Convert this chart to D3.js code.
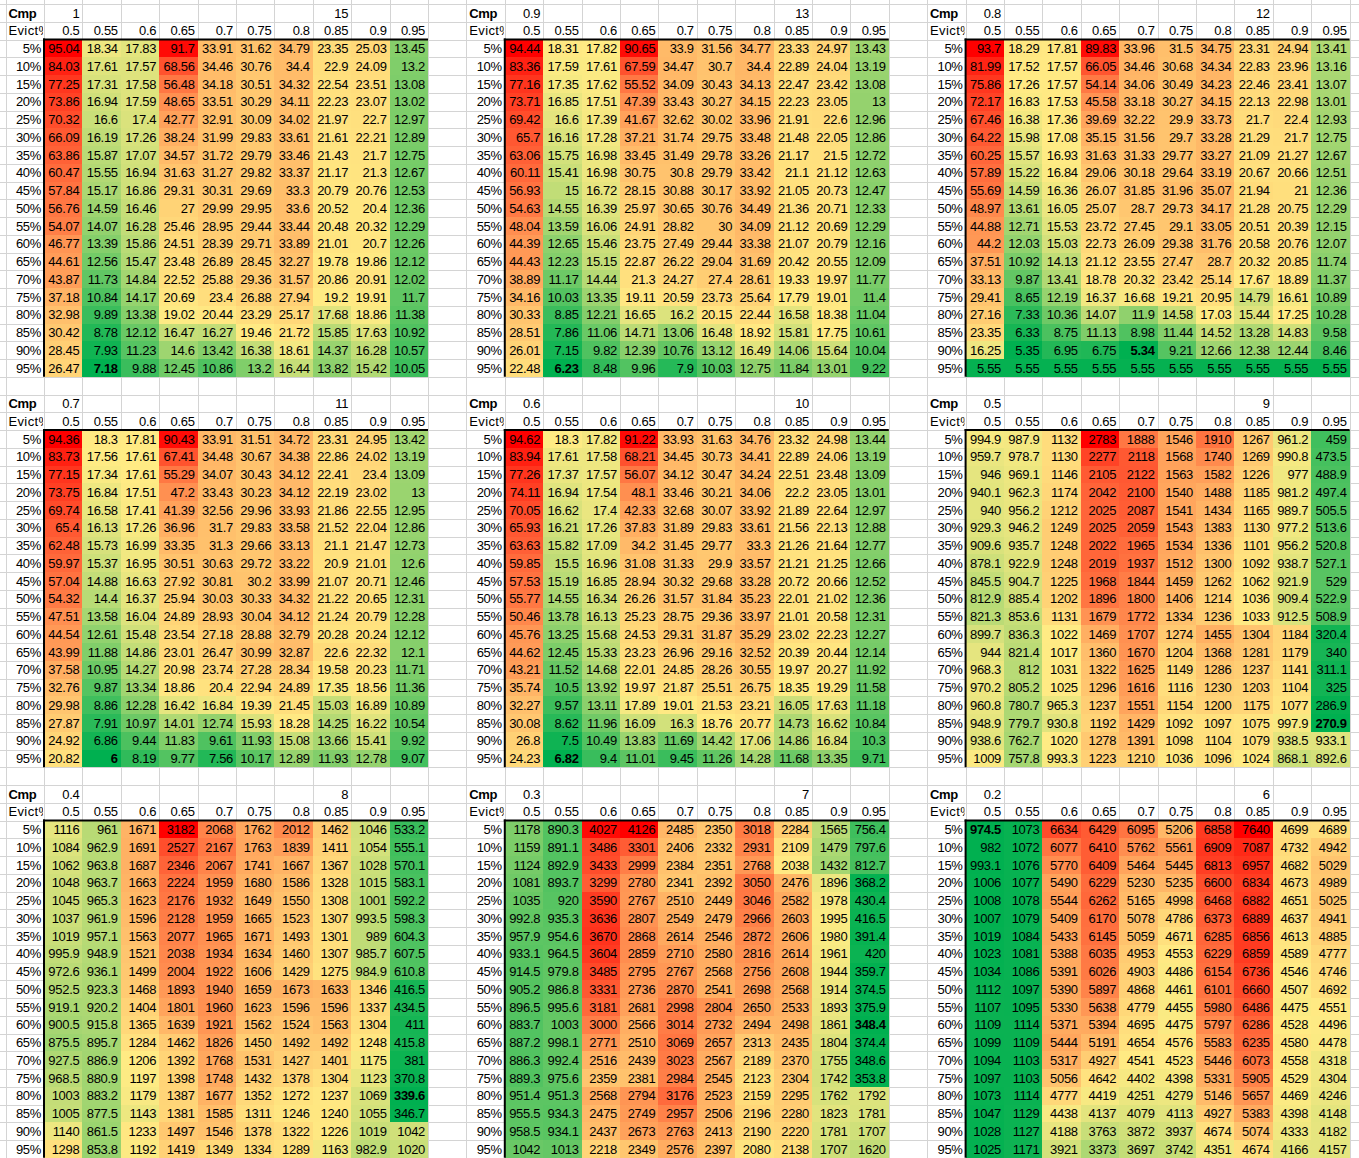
<!DOCTYPE html>
<html><head><meta charset="utf-8">
<script src="https://cdn.jsdelivr.net/npm/d3@7"></script>
<style>
html,body{margin:0;padding:0;background:#fff;}
svg{display:block;}
text{font-family:"Liberation Sans",Arial,sans-serif;font-size:13px;fill:#000;letter-spacing:-0.3px;}
</style></head><body>
<div id="chart"></div>
<script>
// ---------- DATA ----------
const evictCols = [0.5, 0.55, 0.6, 0.65, 0.7, 0.75, 0.8, 0.85, 0.9, 0.95];
const rowLabels = ["5%","10%","15%","20%","25%","30%","35%","40%","45%","50%","55%","60%","65%","70%","75%","80%","85%","90%","95%"];
const cmpFirst  = [1, 0.9, 0.8, 0.7, 0.6, 0.5, 0.4, 0.3, 0.2];
const cmpSecond = [15, 13, 12, 11, 10, 9, 8, 7, 6];

const vals_cmp1 = [
[95.04,18.34,17.83,91.7,33.91,31.62,34.79,23.35,25.03,13.45],
[84.03,17.61,17.57,68.56,34.46,30.76,34.4,22.9,24.09,13.2],
[77.25,17.31,17.58,56.48,34.18,30.51,34.32,22.54,23.51,13.08],
[73.86,16.94,17.59,48.65,33.51,30.29,34.11,22.23,23.07,13.02],
[70.32,16.6,17.4,42.77,32.91,30.09,34.02,21.97,22.7,12.97],
[66.09,16.19,17.26,38.24,31.99,29.83,33.61,21.61,22.21,12.89],
[63.86,15.87,17.07,34.57,31.72,29.79,33.46,21.43,21.7,12.75],
[60.47,15.55,16.94,31.63,31.27,29.82,33.37,21.17,21.3,12.67],
[57.84,15.17,16.86,29.31,30.31,29.69,33.3,20.79,20.76,12.53],
[56.76,14.59,16.46,27,29.99,29.95,33.6,20.52,20.4,12.36],
[54.07,14.07,16.28,25.46,28.95,29.44,33.44,20.48,20.32,12.29],
[46.77,13.39,15.86,24.51,28.39,29.71,33.89,21.01,20.7,12.26],
[44.61,12.56,15.47,23.48,26.89,28.45,32.27,19.78,19.86,12.12],
[43.87,11.73,14.84,22.52,25.88,29.36,31.57,20.86,20.91,12.02],
[37.18,10.84,14.17,20.69,23.4,26.88,27.94,19.2,19.91,11.7],
[32.98,9.89,13.38,19.02,20.44,23.29,25.17,17.68,18.86,11.38],
[30.42,8.78,12.12,16.47,16.27,19.46,21.72,15.85,17.63,10.92],
[28.45,7.93,11.23,14.6,13.42,16.38,18.61,14.37,16.28,10.57],
[26.47,7.18,9.88,12.45,10.86,13.2,16.44,13.82,15.42,10.05]];

const vals_cmp09 = [
[94.44,18.31,17.82,90.65,33.9,31.56,34.77,23.33,24.97,13.43],
[83.36,17.59,17.61,67.59,34.47,30.7,34.4,22.89,24.04,13.19],
[77.16,17.35,17.62,55.52,34.09,30.43,34.13,22.47,23.42,13.08],
[73.71,16.85,17.51,47.39,33.43,30.27,34.15,22.23,23.05,13],
[69.42,16.6,17.39,41.67,32.62,30.02,33.96,21.91,22.6,12.96],
[65.7,16.16,17.28,37.21,31.74,29.75,33.48,21.48,22.05,12.86],
[63.06,15.75,16.98,33.45,31.49,29.78,33.26,21.17,21.5,12.72],
[60.11,15.41,16.98,30.75,30.8,29.79,33.42,21.1,21.12,12.63],
[56.93,15,16.72,28.15,30.88,30.17,33.92,21.05,20.73,12.47],
[54.63,14.55,16.39,25.97,30.65,30.76,34.49,21.36,20.71,12.33],
[48.04,13.59,16.06,24.91,28.82,30,34.09,21.12,20.69,12.29],
[44.39,12.65,15.46,23.75,27.49,29.44,33.38,21.07,20.79,12.16],
[44.43,12.23,15.15,22.87,26.22,29.04,31.69,20.42,20.55,12.09],
[38.89,11.17,14.44,21.3,24.27,27.4,28.61,19.33,19.97,11.77],
[34.16,10.03,13.35,19.11,20.59,23.73,25.64,17.79,19.01,11.4],
[30.33,8.85,12.21,16.65,16.2,20.15,22.44,16.58,18.38,11.04],
[28.51,7.86,11.06,14.71,13.06,16.48,18.92,15.81,17.75,10.61],
[26.01,7.15,9.82,12.39,10.76,13.12,16.49,14.06,15.64,10.04],
[22.48,6.23,8.48,9.96,7.9,10.03,12.75,11.84,13.01,9.22]];

const vals_cmp08 = [
[93.7,18.29,17.81,89.83,33.96,31.5,34.75,23.31,24.94,13.41],
[81.99,17.52,17.57,66.05,34.46,30.68,34.34,22.83,23.96,13.16],
[75.86,17.26,17.57,54.14,34.06,30.49,34.23,22.46,23.41,13.07],
[72.17,16.83,17.53,45.58,33.18,30.27,34.15,22.13,22.98,13.01],
[67.46,16.38,17.36,39.69,32.22,29.9,33.73,21.7,22.4,12.93],
[64.22,15.98,17.08,35.15,31.56,29.7,33.28,21.29,21.7,12.75],
[60.25,15.57,16.93,31.63,31.33,29.77,33.27,21.09,21.27,12.67],
[57.89,15.22,16.84,29.06,30.18,29.64,33.19,20.67,20.66,12.51],
[55.69,14.59,16.36,26.07,31.85,31.96,35.07,21.94,21,12.36],
[48.97,13.61,16.05,25.07,28.7,29.73,34.17,21.28,20.75,12.29],
[44.88,12.71,15.53,23.72,27.45,29.1,33.05,20.51,20.39,12.15],
[44.2,12.03,15.03,22.73,26.09,29.38,31.76,20.58,20.76,12.07],
[37.51,10.92,14.13,21.12,23.55,27.47,28.7,20.32,20.85,11.74],
[33.13,9.87,13.41,18.78,20.32,23.42,25.14,17.67,18.89,11.37],
[29.41,8.65,12.19,16.37,16.68,19.21,20.95,14.79,16.61,10.89],
[27.16,7.33,10.36,14.07,11.9,14.58,17.03,15.44,17.25,10.28],
[23.35,6.33,8.75,11.13,8.98,11.44,14.52,13.28,14.83,9.58],
[16.25,5.35,6.95,6.75,5.34,9.21,12.66,12.38,12.44,8.46],
[5.55,5.55,5.55,5.55,5.55,5.55,5.55,5.55,5.55,5.55]];

const vals_cmp07 = [
[94.36,18.3,17.81,90.43,33.91,31.51,34.72,23.31,24.95,13.42],
[83.73,17.56,17.61,67.41,34.48,30.67,34.38,22.86,24.02,13.19],
[77.15,17.34,17.61,55.29,34.07,30.43,34.12,22.41,23.4,13.09],
[73.75,16.84,17.51,47.2,33.43,30.23,34.12,22.19,23.02,13],
[69.74,16.58,17.41,41.39,32.56,29.96,33.93,21.86,22.55,12.95],
[65.4,16.13,17.26,36.96,31.7,29.83,33.58,21.52,22.04,12.86],
[62.48,15.73,16.99,33.35,31.3,29.66,33.13,21.1,21.47,12.73],
[59.97,15.37,16.95,30.51,30.63,29.72,33.22,20.9,21.01,12.6],
[57.04,14.88,16.63,27.92,30.81,30.2,33.99,21.07,20.71,12.46],
[54.32,14.4,16.37,25.94,30.03,30.33,34.32,21.22,20.65,12.31],
[47.51,13.58,16.04,24.89,28.93,30.04,34.12,21.24,20.79,12.28],
[44.54,12.61,15.48,23.54,27.18,28.88,32.79,20.28,20.24,12.12],
[43.99,11.88,14.86,23.01,26.47,30.99,32.87,22.6,22.32,12.1],
[37.58,10.95,14.27,20.98,23.74,27.28,28.34,19.58,20.23,11.71],
[32.76,9.87,13.34,18.86,20.4,22.94,24.89,17.35,18.56,11.36],
[29.98,8.86,12.28,16.42,16.84,19.39,21.45,15.03,16.89,10.89],
[27.87,7.91,10.97,14.01,12.74,15.93,18.28,14.25,16.22,10.54],
[24.92,6.86,9.44,11.83,9.61,11.93,15.08,13.66,15.41,9.92],
[20.82,6,8.19,9.77,7.56,10.17,12.89,11.93,12.78,9.07]];

const vals_cmp06 = [
[94.62,18.3,17.82,91.22,33.93,31.63,34.76,23.32,24.98,13.44],
[83.94,17.61,17.58,68.21,34.45,30.73,34.41,22.89,24.06,13.19],
[77.26,17.37,17.57,56.07,34.12,30.47,34.24,22.51,23.48,13.09],
[74.11,16.94,17.54,48.1,33.46,30.21,34.06,22.2,23.05,13.01],
[70.05,16.62,17.4,42.33,32.68,30.07,33.92,21.89,22.64,12.97],
[65.93,16.21,17.26,37.83,31.89,29.83,33.61,21.56,22.13,12.88],
[63.63,15.82,17.09,34.2,31.45,29.77,33.3,21.26,21.64,12.77],
[59.85,15.5,16.96,31.08,31.33,29.9,33.57,21.21,21.25,12.66],
[57.53,15.19,16.85,28.94,30.32,29.68,33.28,20.72,20.66,12.52],
[55.77,14.55,16.34,26.26,31.57,31.84,35.23,22.01,21.02,12.36],
[50.46,13.78,16.13,25.23,28.75,29.36,33.97,21.01,20.58,12.31],
[45.76,13.25,15.68,24.53,29.31,31.87,35.29,23.02,22.23,12.27],
[44.62,12.45,15.33,23.23,26.96,29.16,32.52,20.39,20.44,12.14],
[43.21,11.52,14.68,22.01,24.85,28.26,30.55,19.97,20.27,11.92],
[35.74,10.5,13.92,19.97,21.87,25.51,26.75,18.35,19.29,11.58],
[32.27,9.57,13.11,17.89,19.01,21.53,23.21,16.05,17.63,11.18],
[30.08,8.62,11.96,16.09,16.3,18.76,20.77,14.73,16.62,10.84],
[26.8,7.5,10.49,13.83,11.69,14.42,17.06,14.86,16.84,10.3],
[24.23,6.82,9.4,11.01,9.45,11.26,14.28,11.68,13.35,9.71]];

const vals_cmp05 = [
[994.9,987.9,1132,2783,1888,1546,1910,1267,961.2,459],
[959.7,978.7,1130,2277,2118,1568,1740,1269,990.8,473.5],
[946,969.1,1146,2105,2122,1563,1582,1226,977,488.9],
[940.1,962.3,1174,2042,2100,1540,1488,1185,981.2,497.4],
[940,956.2,1212,2025,2087,1541,1434,1165,989.7,505.5],
[929.3,946.2,1249,2025,2059,1543,1383,1130,977.2,513.6],
[909.6,935.7,1248,2022,1965,1534,1336,1101,956.2,520.8],
[878.1,922.9,1248,2019,1937,1512,1300,1092,938.7,527.1],
[845.5,904.7,1225,1968,1844,1459,1262,1062,921.9,529],
[812.9,885.4,1202,1896,1800,1406,1214,1036,909.4,522.9],
[821.3,853.6,1131,1679,1772,1334,1236,1033,912.5,508.9],
[899.7,836.3,1022,1469,1707,1274,1455,1304,1184,320.4],
[944,821.4,1017,1360,1670,1204,1368,1281,1179,340],
[968.3,812,1031,1322,1625,1149,1286,1237,1141,311.1],
[970.2,805.2,1025,1296,1616,1116,1230,1203,1104,325],
[960.8,780.7,965.3,1237,1551,1154,1200,1175,1077,286.9],
[948.9,779.7,930.8,1192,1429,1092,1097,1075,997.9,270.9],
[938.6,762.7,1020,1278,1391,1098,1104,1079,938.5,933.1],
[1009,757.8,993.3,1223,1210,1036,1096,1024,868.1,892.6]];

const vals_cmp04 = [
[1116,961,1671,3182,2068,1762,2012,1462,1046,533.2],
[1084,962.9,1691,2527,2167,1763,1839,1411,1054,555.1],
[1062,963.8,1687,2346,2067,1741,1667,1367,1028,570.1],
[1048,963.7,1663,2224,1959,1680,1586,1328,1015,583.1],
[1045,965.3,1623,2176,1932,1649,1550,1308,1001,592.2],
[1037,961.9,1596,2128,1959,1665,1523,1307,993.5,598.3],
[1019,957.1,1563,2077,1965,1671,1493,1301,989,604.3],
[995.9,948.9,1521,2038,1934,1634,1460,1307,985.7,607.5],
[972.6,936.1,1499,2004,1922,1606,1429,1275,984.9,610.8],
[952.5,923.3,1468,1893,1940,1659,1673,1633,1346,416.5],
[919.1,920.2,1404,1801,1960,1623,1596,1596,1337,434.5],
[900.5,915.8,1365,1639,1921,1562,1524,1563,1304,411],
[875.5,895.7,1284,1462,1826,1450,1492,1492,1248,415.8],
[927.5,886.9,1206,1392,1768,1531,1427,1401,1175,381],
[968.5,880.9,1197,1398,1748,1432,1378,1304,1123,370.8],
[1003,883.2,1179,1387,1677,1352,1272,1237,1069,339.6],
[1005,877.5,1143,1381,1585,1311,1246,1240,1055,346.7],
[1140,861.5,1233,1497,1546,1378,1322,1226,1019,1042],
[1298,853.8,1192,1419,1349,1334,1289,1163,982.9,1020]];

const vals_cmp03 = [
[1178,890.3,4027,4126,2485,2350,3018,2284,1565,756.4],
[1159,891.1,3486,3301,2406,2332,2931,2109,1479,797.6],
[1124,892.9,3433,2999,2384,2351,2768,2038,1432,812.7],
[1081,893.7,3299,2780,2341,2392,3050,2476,1896,368.2],
[1035,920,3590,2767,2510,2449,3046,2582,1978,430.4],
[992.8,935.3,3636,2807,2549,2479,2966,2603,1995,416.5],
[957.9,954.6,3670,2868,2614,2546,2872,2606,1980,391.4],
[933.1,964.5,3604,2859,2710,2580,2816,2614,1961,420],
[914.5,979.8,3485,2795,2767,2568,2756,2608,1944,359.7],
[905.2,986.8,3331,2736,2870,2541,2698,2568,1914,374.5],
[896.5,995.6,3181,2681,2998,2804,2650,2533,1893,375.9],
[883.7,1003,3000,2566,3014,2732,2494,2498,1861,348.4],
[887.2,998.1,2771,2510,3069,2657,2313,2435,1804,374.4],
[886.3,992.4,2516,2439,3023,2567,2189,2370,1755,348.6],
[889.3,975.6,2359,2381,2984,2545,2123,2304,1742,353.8],
[951.4,951.3,2568,2794,3176,2523,2159,2295,1762,1792],
[955.5,934.3,2475,2749,2957,2506,2196,2280,1823,1781],
[958.5,934.1,2437,2673,2763,2413,2190,2220,1781,1707],
[1042,1013,2218,2349,2576,2397,2080,2138,1707,1620]];

const vals_cmp02 = [
[974.5,1073,6634,6429,6095,5206,6858,7640,4699,4689],
[982,1072,6077,6410,5762,5561,6909,7087,4732,4942],
[993.1,1076,5770,6409,5464,5445,6813,6957,4682,5029],
[1006,1077,5490,6229,5230,5235,6600,6834,4673,4989],
[1008,1078,5544,6262,5165,4998,6468,6882,4651,5025],
[1007,1079,5409,6170,5078,4786,6373,6889,4637,4941],
[1019,1084,5433,6145,5059,4671,6285,6856,4613,4885],
[1023,1081,5388,6035,4953,4553,6229,6859,4589,4777],
[1034,1086,5391,6026,4903,4486,6154,6736,4546,4746],
[1112,1097,5390,5897,4868,4461,6101,6660,4507,4692],
[1107,1095,5330,5638,4779,4455,5980,6486,4475,4551],
[1109,1114,5371,5394,4695,4475,5797,6286,4528,4496],
[1099,1109,5444,5191,4654,4576,5583,6235,4580,4478],
[1094,1103,5317,4927,4541,4523,5446,6073,4558,4318],
[1097,1103,5056,4642,4402,4398,5331,5905,4529,4304],
[1073,1114,4777,4419,4251,4279,5146,5657,4469,4246],
[1047,1129,4438,4137,4079,4113,4927,5383,4398,4148],
[1028,1127,4188,3763,3872,3937,4674,5074,4333,4182],
[1025,1171,3921,3373,3697,3742,4351,4674,4166,4157]];

const panels = [vals_cmp1, vals_cmp09, vals_cmp08, vals_cmp07, vals_cmp06, vals_cmp05, vals_cmp04, vals_cmp03, vals_cmp02];

// ---------- LAYOUT ----------
const W = 1359, H = 1158;
const colW = 38.4, rowH = 17.75;
const gridX = d3.scaleLinear().domain([0, 1]).range([5.6, 5.6 + colW]);
const gridY = d3.scaleLinear().domain([0, 1]).range([4, 4 + rowH]);
const px = v => Math.round(v);

const svg = d3.select("#chart").append("svg").attr("width", W).attr("height", H);
svg.append("rect").attr("width", W).attr("height", H).attr("fill", "#fff");

// spreadsheet gridlines
const gl = svg.append("g").attr("stroke", "#d4d4d4").attr("stroke-width", 1).attr("shape-rendering", "crispEdges");
gl.selectAll("line.v").data(d3.range(-1, 37)).join("line")
  .attr("x1", k => px(gridX(k)) + 0.5).attr("x2", k => px(gridX(k)) + 0.5)
  .attr("y1", 0).attr("y2", H);
gl.selectAll("line.h").data(d3.range(-1, 67)).join("line")
  .attr("y1", k => px(gridY(k)) + 0.5).attr("y2", k => px(gridY(k)) + 0.5)
  .attr("x1", 0).attr("x2", W);

const defs = svg.append("defs");

panels.forEach((vals, p) => {
  const c = p % 3, r = Math.floor(p / 3);
  const x0 = gridX(12 * c), y0 = gridY(22 * r);
  const colKeys = ["lab", ...evictCols.map(String)];
  const x = d3.scaleBand().domain(colKeys).range([x0, x0 + 11 * colW]);
  const y = d3.scaleBand().domain(["cmp", "evict", ...rowLabels]).range([y0, y0 + 21 * rowH]);
  const bw = x.bandwidth(), bh = y.bandwidth();

  const flat = vals.flat();
  const mn = d3.min(flat), mx = d3.max(flat), mid = d3.quantile(flat, 0.4);
  const color = d3.scaleLinear().domain([mn, mid, mx])
    .range(["#00B050", "#FFEB84", "#FF0000"]).interpolate(d3.interpolateRgb).clamp(true);

  const g = svg.append("g");
  const cells = [];
  vals.forEach((row, i) => row.forEach((v, j) => cells.push({ v, row: rowLabels[i], col: String(evictCols[j]) })));

  g.selectAll("rect.cell").data(cells).join("rect")
    .attr("x", d => px(x(d.col))).attr("y", d => px(y(d.row)))
    .attr("width", d => px(x(d.col) + bw) - px(x(d.col)))
    .attr("height", d => px(y(d.row) + bh) - px(y(d.row)))
    .attr("fill", d => color(d.v))
    .attr("shape-rendering", "crispEdges");

  g.selectAll("text.val").data(cells).join("text")
    .attr("x", d => x(d.col) + bw - 3).attr("y", d => y(d.row) + bh - 4.2)
    .attr("text-anchor", "end")
    .attr("font-weight", d => d.v === mn ? "bold" : null)
    .text(d => String(d.v));

  // row labels
  g.selectAll("text.rl").data(rowLabels).join("text")
    .attr("x", x("lab") + bw - 3).attr("y", d => y(d) + bh - 4.2)
    .attr("text-anchor", "end").text(d => d);

  // header: Evict% columns
  g.selectAll("text.ch").data(evictCols).join("text")
    .attr("x", d => x(String(d)) + bw - 3).attr("y", y("evict") + bh - 4.2)
    .attr("text-anchor", "end").text(d => String(d));

  // Cmp row
  g.append("text").attr("x", x("lab") + 2.8).attr("y", y("cmp") + bh - 4.2)
    .attr("font-weight", "bold").text("Cmp");
  g.append("text").attr("x", x(String(evictCols[0])) + bw - 3).attr("y", y("cmp") + bh - 4.2)
    .attr("text-anchor", "end").text(String(cmpFirst[p]));
  g.append("text").attr("x", x(String(evictCols[7])) + bw - 3).attr("y", y("cmp") + bh - 4.2)
    .attr("text-anchor", "end").text(String(cmpSecond[p]));

  // Evict% label clipped to its cell
  const cid = "clip" + p;
  defs.append("clipPath").attr("id", cid).append("rect")
    .attr("x", x("lab")).attr("y", y("evict")).attr("width", bw - 1).attr("height", bh);
  g.append("text").attr("clip-path", `url(#${cid})`)
    .attr("x", x("lab") + 2.8).attr("y", y("evict") + bh - 4.2)
    .style("letter-spacing", "0.4px").text("Evict%");

  // thick borders: top and left of data block
  const dx = x(String(evictCols[0])), dy = y(rowLabels[0]);
  g.append("line").attr("x1", dx - 1).attr("x2", x0 + 11 * colW).attr("y1", dy).attr("y2", dy)
    .attr("stroke", "#000").attr("stroke-width", 2);
  g.append("line").attr("x1", dx).attr("x2", dx).attr("y1", dy - 1).attr("y2", y0 + 21 * rowH)
    .attr("stroke", "#000").attr("stroke-width", 2);
});
</script>
</body></html>
